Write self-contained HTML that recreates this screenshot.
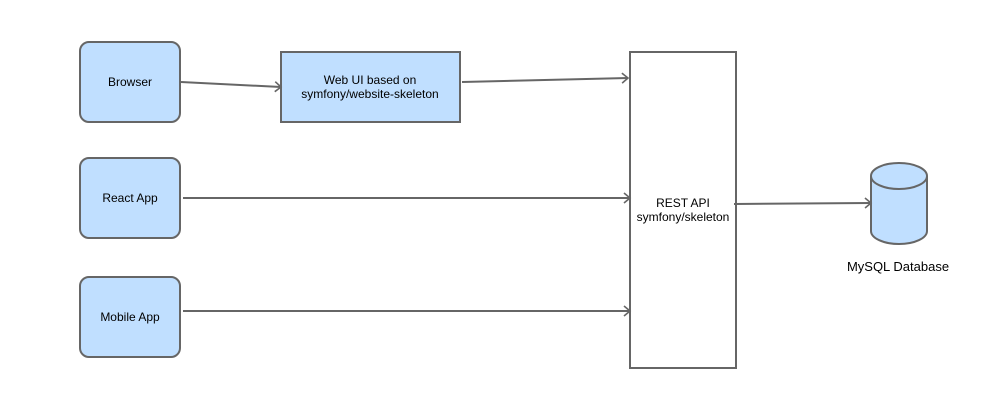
<!DOCTYPE html>
<html><head><style>html,body{margin:0;padding:0;background:#fff}</style></head><body>
<svg width="1000" height="400" xmlns="http://www.w3.org/2000/svg" font-family="Liberation Sans, Arial, sans-serif" font-size="12">
<defs><marker id="a" markerWidth="10" markerHeight="12" refX="8" refY="6" orient="auto" markerUnits="userSpaceOnUse"><path d="M2,1 L8,6 L2,11" fill="none" stroke="#666" stroke-width="1.6"/></marker></defs>
<g stroke="#666" stroke-width="2" fill="#c0dfff">
<rect x="80" y="42" width="100" height="80" rx="9"/>
<rect x="80" y="158" width="100" height="80" rx="9"/>
<rect x="80" y="277" width="100" height="80" rx="9"/>
<rect x="281" y="52" width="179" height="70"/>
<rect x="630" y="52" width="106" height="316" fill="#fff"/>
<path d="M871,176 L871,231 A28,13 0 0 0 927,231 L927,176 A28,13 0 0 0 871,176 Z"/>
<path d="M871,176 A28,13 0 0 0 927,176" fill="none"/>
</g>
<g stroke="#666" stroke-width="2" fill="none" marker-end="url(#a)">
<line x1="181" y1="82" x2="281" y2="87"/>
<line x1="462" y1="82" x2="628" y2="78"/>
<line x1="183" y1="198" x2="630" y2="198"/>
<line x1="183" y1="311" x2="630" y2="311"/>
<line x1="734" y1="204" x2="871" y2="203"/>
</g>
<g fill="#000" text-anchor="middle">
<text x="130" y="86">Browser</text>
<text x="130" y="202">React App</text>
<text x="130" y="321">Mobile App</text>
<text x="370" y="84">Web UI based on</text>
<text x="370" y="98">symfony/website-skeleton</text>
<text x="683" y="207">REST API</text>
<text x="683" y="221">symfony/skeleton</text>
<text x="898" y="271" font-size="13">MySQL Database</text>
</g>
</svg>
</body></html>
